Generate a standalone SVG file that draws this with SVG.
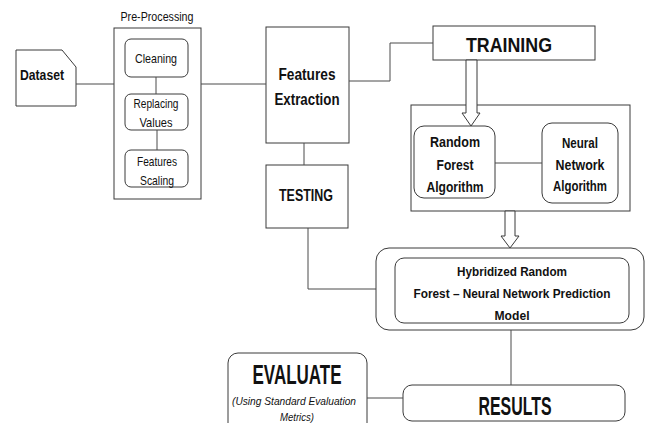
<svg xmlns="http://www.w3.org/2000/svg" width="646" height="423" viewBox="0 0 646 423">
<style>
.b{fill:#fff;stroke:#3a3a3a;stroke-width:1}
.c{fill:none;stroke:#4a4a4a;stroke-width:1}
.a{fill:#fff;stroke:#3a3a3a;stroke-width:1}
.t{font-family:"Liberation Sans",Arial,sans-serif;fill:#111;text-anchor:middle}
.bd{font-weight:bold}
</style>
<rect width="646" height="423" fill="#fff"/>
<g id="dataset">
<path class="b" d="M16,50 H62 L76,67 V106 H16 Z"/>
<text class="t bd" x="42" y="80" font-size="14" textLength="44" lengthAdjust="spacingAndGlyphs">Dataset</text>
</g>
<g id="preprocessing">
<text class="t" x="157" y="21" font-size="13" textLength="73" lengthAdjust="spacingAndGlyphs">Pre-Processing</text>
<rect class="b" x="114" y="28" width="87" height="171"/>
</g>
<g id="cleaning">
<rect class="b" x="125" y="39" width="63" height="38" rx="6"/>
<text class="t" x="156" y="63" font-size="13" textLength="42" lengthAdjust="spacingAndGlyphs">Cleaning</text>
</g>
<g id="replacing">
<rect class="b" x="125" y="94" width="63" height="36" rx="6"/>
<text class="t" x="156" y="108" font-size="13" textLength="45" lengthAdjust="spacingAndGlyphs">Replacing</text>
<text class="t" x="156" y="127" font-size="13" textLength="33" lengthAdjust="spacingAndGlyphs">Values</text>
</g>
<g id="scaling">
<rect class="b" x="125" y="150" width="63" height="37" rx="6"/>
<text class="t" x="157" y="166" font-size="13" textLength="40" lengthAdjust="spacingAndGlyphs">Features</text>
<text class="t" x="157" y="185" font-size="13" textLength="34" lengthAdjust="spacingAndGlyphs">Scaling</text>
</g>
<g id="features-extraction">
<rect class="b" x="266" y="27" width="83" height="116"/>
<text class="t bd" x="307" y="80" font-size="17" textLength="57" lengthAdjust="spacingAndGlyphs">Features</text>
<text class="t bd" x="307" y="105" font-size="17" textLength="65" lengthAdjust="spacingAndGlyphs">Extraction</text>
</g>
<g id="training">
<rect class="b" x="433" y="26" width="162" height="34"/>
<text class="t bd" x="509" y="52" font-size="21" textLength="86" lengthAdjust="spacingAndGlyphs">TRAINING</text>
</g>
<g id="algorithms">
<rect class="b" x="411" y="105" width="219" height="106"/>
</g>
<g id="random-forest">
<rect class="b" x="414" y="126" width="81" height="72" rx="10"/>
<text class="t bd" x="455" y="147" font-size="14" textLength="50" lengthAdjust="spacingAndGlyphs">Random</text>
<text class="t bd" x="455" y="170" font-size="14" textLength="37" lengthAdjust="spacingAndGlyphs">Forest</text>
<text class="t bd" x="455" y="192" font-size="14" textLength="57" lengthAdjust="spacingAndGlyphs">Algorithm</text>
</g>
<g id="neural-network">
<rect class="b" x="542" y="123" width="76" height="80" rx="10"/>
<text class="t bd" x="580" y="148" font-size="14" textLength="36" lengthAdjust="spacingAndGlyphs">Neural</text>
<text class="t bd" x="580" y="170" font-size="14" textLength="49" lengthAdjust="spacingAndGlyphs">Network</text>
<text class="t bd" x="580" y="191" font-size="14" textLength="54" lengthAdjust="spacingAndGlyphs">Algorithm</text>
</g>
<g id="testing">
<rect class="b" x="266" y="165" width="82" height="63"/>
<text class="t bd" x="306" y="201" font-size="17" textLength="54" lengthAdjust="spacingAndGlyphs">TESTING</text>
</g>
<g id="hybrid">
<rect class="b" x="376" y="248" width="268" height="82" rx="13"/>
<rect class="b" x="395" y="258" width="234" height="65" rx="9"/>
<text class="t bd" x="512" y="276" font-size="13" textLength="110" lengthAdjust="spacingAndGlyphs">Hybridized Random</text>
<text class="t bd" x="512" y="298" font-size="13" textLength="197" lengthAdjust="spacingAndGlyphs">Forest – Neural Network Prediction</text>
<text class="t bd" x="512" y="320" font-size="13" textLength="35" lengthAdjust="spacingAndGlyphs">Model</text>
</g>
<g id="results">
<rect class="b" x="403" y="385" width="222" height="36" rx="9"/>
<text class="t bd" x="515" y="415" font-size="25" textLength="73" lengthAdjust="spacingAndGlyphs">RESULTS</text>
</g>
<g id="evaluate">
<rect class="b" x="228" y="353" width="139" height="80" rx="10"/>
<text class="t bd" x="297" y="384" font-size="27" textLength="89" lengthAdjust="spacingAndGlyphs">EVALUATE</text>
<text class="t" x="294" y="405" font-size="10" font-style="italic" textLength="124" lengthAdjust="spacingAndGlyphs">(Using Standard Evaluation</text>
<text class="t" x="297" y="421" font-size="10" font-style="italic" textLength="34" lengthAdjust="spacingAndGlyphs">Metrics)</text>
</g>
<g id="connectors">
<polyline class="c" points="76,84 114,84"/>
<polyline class="c" points="201,84 266,84"/>
<polyline class="c" points="156,77 156,94"/>
<polyline class="c" points="157,130 157,150"/>
<polyline class="c" points="349,81 390,81 390,43 433,43"/>
<polyline class="c" points="304,143 304,165"/>
<polyline class="c" points="308,228 308,289 376,289"/>
<polyline class="c" points="495,163 542,163"/>
<polygon class="a" points="466,60 477,60 477,113 480,113 471,126 462,113 466,113"/>
<polygon class="a" points="505,211 515,211 515,236 519,236 510,248 501,236 505,236"/>
<polyline class="c" points="511,330 511,385"/>
<polyline class="c" points="367,398 403,398"/>
</g>
</svg>
